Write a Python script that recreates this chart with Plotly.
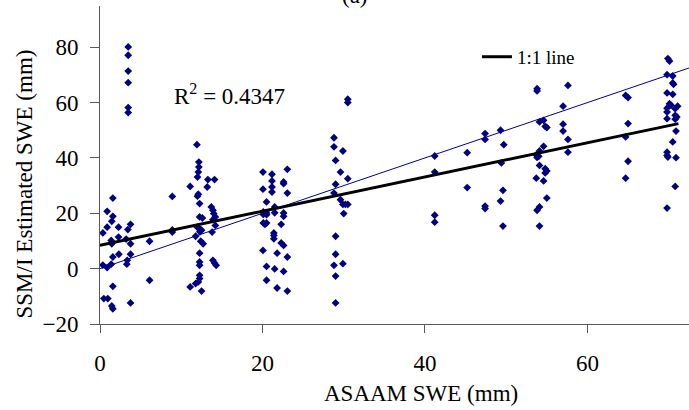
import plotly.graph_objects as go

# ---- data ----
x_vals = [
    0.35, 0.35, 0.47, 0.88, 0.88, 0.88, 0.96, 1.38, 1.45, 1.38, 1.45, 1.45, 1.58, 1.58, 1.58, 1.58, 1.58,
    2.28, 2.28, 2.32, 3.22, 3.43, 3.76, 3.76, 3.76, 3.35, 3.3, 3.76,
    3.47, 3.47, 3.47, 3.47, 3.47, 3.47, 6.1, 6.1, 8.9, 8.9, 8.9,
    11.93, 12.17, 12.17, 12.1, 12.0, 13.28, 14.1, 11.1, 13.2, 12.1, 12.0, 12.26, 13.7, 13.9, 14.0,
    12.26, 12.6, 14.2, 13.9, 14.2, 11.97, 12.3, 12.5, 12.3, 13.8, 11.77, 12.4, 12.7, 12.26, 12.26,
    12.26, 13.9, 14.1, 14.3, 12.26, 12.26, 12.1, 11.77, 11.1, 12.5,
    20.06, 21.17, 21.17, 21.17, 21.17, 23.06, 22.6, 22.6, 23.06, 20.06, 20.5, 21.5, 20.1, 20.5, 20.1,
    20.5, 21.5, 22.6, 22.6, 20.1, 20.3, 20.5, 22.3, 21.4, 21.4, 21.4, 22.3, 22.6, 20.06, 21.8, 23.06,
    20.5, 21.5, 22.6, 20.5, 21.8, 23.06,
    30.5, 30.5, 28.8, 28.8, 29.9, 29.0, 29.6, 30.5, 29.0, 28.8, 29.6, 29.9, 30.2, 30.5, 30.0, 29.0,
    29.0, 28.8, 29.9, 29.0, 29.0,
    41.2, 41.2, 41.2, 41.2, 45.2, 45.2, 47.4, 47.4, 47.4, 47.4, 49.3, 49.7, 49.4, 49.6, 49.3, 49.6,
    53.8, 53.8, 54.1, 54.6, 54.8, 55.0, 54.6, 54.1, 53.7, 54.0, 53.8, 54.1, 54.8, 55.0, 54.8, 53.7,
    54.6, 55.0, 54.1, 53.8, 54.1, 57.6, 57.0, 57.0, 57.0, 57.6, 57.6,
    64.7, 65.0, 65.0, 64.7, 65.0, 64.7,
    69.9, 70.1, 69.8, 70.5, 70.5, 70.6, 69.8, 70.5, 70.1, 70.3, 71.1, 69.8, 70.8, 69.8, 70.8, 71.0,
    70.8, 69.8, 70.9, 70.5, 69.8, 69.8, 69.9, 70.9, 70.8, 69.8,
]
y_vals = [
    12.9, 1.3, -10.8, 20.7, 15.0, 0.4, -10.8, 10.2, 9.0, 1.6, 17.1, -13.5, 25.5, 18.9, 4.2, -6.4, -14.5,
    15.0, 11.4, 5.2, 10.7, 14.1, 16.0, 9.0, 5.2, 3.0, 1.6, -12.4,
    80.1, 77.1, 71.4, 67.2, 58.2, 56.4, 9.9, -4.2, 26.1, 13.2, 14.0,
    44.8, 38.5, 36.7, 34.9, 33.1, 32.2, 32.2, 29.7, 29.5, 26.9, 26.2, 23.5, 22.3, 21.1, 19.9,
    18.7, 18.3, 18.7, 17.7, 15.6, 15.0, 14.3, 13.9, 13.3, 13.2, 11.7, 9.9, 9.0, 5.6, 2.4,
    1.2, 3.0, 2.0, 1.2, -2.4, -3.6, -4.8, -5.4, -6.6, -8.1,
    34.9, 34.1, 31.7, 29.5, 27.7, 35.9, 31.3, 30.7, 27.3, 28.7, 24.1, 22.3, 20.5, 20.1, 19.6,
    19.5, 20.2, 20.1, 18.9, 16.5, 16.0, 16.5, 16.0, 12.9, 12.0, 10.8, 9.3, 8.4, 6.6, 5.6, 4.2,
    0.8, -0.1, -1.0, -4.2, -7.0, -8.1,
    61.2, 60.0, 47.3, 44.0, 42.5, 39.1, 34.9, 32.5, 30.5, 27.3, 24.9, 23.2, 23.2, 23.2, 19.9, 11.7,
    5.2, 1.2, 1.8, -2.7, -12.4,
    40.7, 34.9, 19.3, 16.8, 41.9, 29.3, 48.8, 46.7, 22.6, 21.7, 50.0, 44.8, 38.2, 28.3, 24.4, 15.4,
    65.0, 64.2, 53.0, 53.6, 51.4, 51.0, 44.2, 42.5, 41.1, 40.6, 40.2, 37.3, 36.1, 35.3, 34.6, 32.7,
    31.7, 25.5, 22.3, 21.1, 15.4, 66.2, 58.7, 52.2, 49.7, 46.7, 42.1,
    62.6, 61.8, 52.4, 47.6, 38.8, 32.7,
    75.9, 75.0, 70.1, 69.6, 67.1, 66.6, 63.5, 63.0, 59.6, 59.0, 58.7, 58.0, 57.8, 56.6, 55.4, 54.8,
    54.0, 54.2, 49.7, 45.8, 42.1, 40.9, 40.3, 40.1, 29.7, 21.9,
]

one_to_one_x = [0, 72.5]
one_to_one_y = [0, 72.5]
trend_x = [0, 71.2]
trend_y = [8.4, 52.4]

x_ticks = [0, 20, 40, 60]
y_ticks = [-20, 0, 20, 40, 60, 80]

FONT = "Liberation Serif, Times New Roman, serif"
AXIS_COLOR = "#595959"

fig = go.Figure()
fig.add_trace(go.Scatter(
    x=x_vals, y=y_vals, mode="markers",
    marker=dict(symbol="diamond", size=6, color="#000080"),
    showlegend=False, name="data"))
fig.add_trace(go.Scatter(
    x=one_to_one_x, y=one_to_one_y, mode="lines",
    line=dict(color="#000099", width=1), showlegend=False, name="1:1"))
fig.add_trace(go.Scatter(
    x=trend_x, y=trend_y, mode="lines",
    line=dict(color="black", width=3), showlegend=True, name="1:1 line"))

fig.update_layout(
    width=689, height=410,
    margin=dict(l=100, r=0, t=6, b=86),
    paper_bgcolor="white", plot_bgcolor="white",
    font=dict(family=FONT, size=23, color="black"),
    legend=dict(x=0.64, y=0.84, xanchor="left", yanchor="middle",
                font=dict(family=FONT, size=19, color="black"),
                bgcolor="rgba(0,0,0,0)", borderwidth=0),
    xaxis=dict(range=[0, 72.5], tickvals=x_ticks, ticks="outside", ticklen=8,
               tickcolor=AXIS_COLOR, showline=True, linecolor=AXIS_COLOR, linewidth=1,
               showgrid=False, zeroline=False, ticklabelstandoff=10,
               tickfont=dict(family=FONT, size=23, color="black")),
    yaxis=dict(range=[-20, 94.9], tickvals=y_ticks, ticks="outside", ticklen=9,
               tickcolor=AXIS_COLOR, showline=True, linecolor=AXIS_COLOR, linewidth=1,
               showgrid=False, zeroline=False, ticklabelstandoff=7,
               tickfont=dict(family=FONT, size=23, color="black")),
    annotations=[
        dict(text="ASAAM SWE (mm)", xref="paper", yref="paper",
             x=(421 - 100) / 589, y=-(393 - 324) / 318, xanchor="center", yanchor="middle",
             showarrow=False, font=dict(family=FONT, size=23, color="black")),
        dict(text="SSM/I Estimated SWE (mm)", xref="paper", yref="paper", textangle=-90,
             x=(23.5 - 100) / 589, y=(324 - 184) / 318, xanchor="center", yanchor="middle",
             showarrow=False, font=dict(family=FONT, size=23, color="black")),
        dict(text="R<sup>2</sup> = 0.4347", xref="x", yref="y",
             x=8.85, y=63.0, xanchor="left", yanchor="middle",
             showarrow=False, font=dict(family=FONT, size=23, color="black")),
        dict(text="(a)", xref="paper", yref="paper",
             x=(355 - 100) / 589, y=(324 - 10) / 318, xanchor="center", yanchor="bottom",
             showarrow=False, font=dict(family=FONT, size=23, color="black")),
    ],
)

fig.write_html("out.html")
